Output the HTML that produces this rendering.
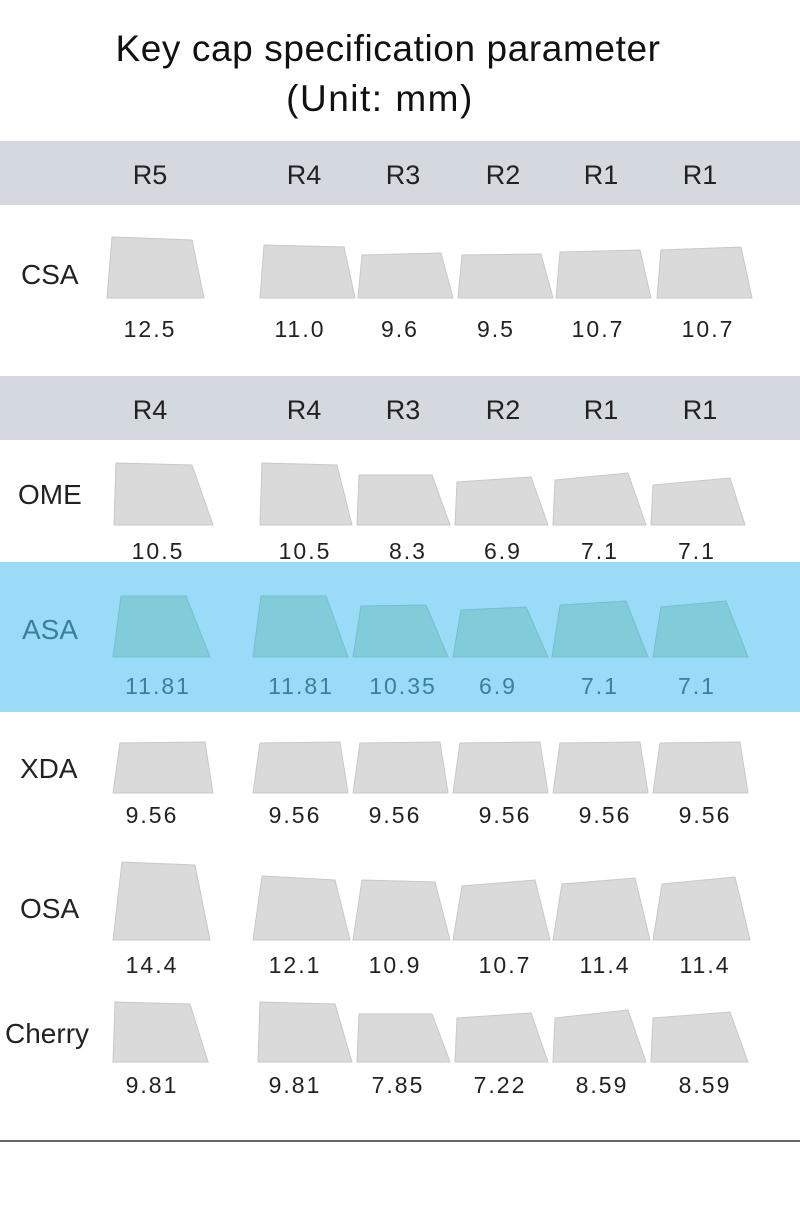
<!DOCTYPE html>
<html><head><meta charset="utf-8"><style>
html,body{margin:0;padding:0;background:#fff;width:800px;height:1228px;overflow:hidden}
svg{display:block}
text{font-family:"Liberation Sans",sans-serif}
</style></head><body>
<svg width="800" height="1228" viewBox="0 0 800 1228" xmlns="http://www.w3.org/2000/svg">
<rect width="800" height="1228" fill="#fff"/>
<text x="388" y="61" font-size="37" letter-spacing="0.6" text-anchor="middle" fill="#111">Key cap specification parameter</text>
<text x="380" y="111" font-size="37" letter-spacing="1.5" text-anchor="middle" fill="#111">(Unit: mm)</text>

<rect x="0" y="141" width="800" height="64" fill="#d4d9e0"/>
<rect x="0" y="376" width="800" height="64" fill="#d4d9e0"/>
<rect x="0" y="562" width="800" height="150" fill="#9adcf7"/>
<rect x="0" y="1140" width="800" height="2" fill="#666"/>

<g font-size="27" fill="#222" text-anchor="middle">
<text x="150" y="184">R5</text><text x="304" y="184">R4</text><text x="403" y="184">R3</text><text x="503" y="184">R2</text><text x="601" y="184">R1</text><text x="700" y="184">R1</text>
<text x="150" y="419">R4</text><text x="304" y="419">R4</text><text x="403" y="419">R3</text><text x="503" y="419">R2</text><text x="601" y="419">R1</text><text x="700" y="419">R1</text>
</g>

<g font-size="28" fill="#222">
<text x="21" y="284">CSA</text>
<text x="18" y="504">OME</text>
<text x="22" y="639" fill="#3a8096">ASA</text>
<text x="20" y="778">XDA</text>
<text x="20" y="918">OSA</text>
<text x="5" y="1043">Cherry</text>
</g>

<g fill="#dadada" stroke="#c8c8c8" stroke-width="1">
<polygon points="112,237 192,240 204,298 107,298"/>
<polygon points="264,245 344,247 355,298 260,298"/>
<polygon points="362,255 441,253 453,298 358,298"/>
<polygon points="462,255 541,254 553,298 458,298"/>
<polygon points="560,252 640,250 651,298 556,298"/>
<polygon points="661,250 741,247 752,298 657,298"/>
<polygon points="116,463 192,465 213,525 114,525"/>
<polygon points="262,463 337,465 352,525 260,525"/>
<polygon points="359,475 432,475 450,525 357,525"/>
<polygon points="457,482 531,477 548,525 455,525"/>
<polygon points="555,480 628,473 646,525 553,525"/>
<polygon points="653,485 730,478 745,525 651,525"/>
<polygon points="120,743 205,742 213,793 113,793"/>
<polygon points="260,743 340,742 348,793 253,793"/>
<polygon points="360,743 440,742 448,793 353,793"/>
<polygon points="460,743 540,742 548,793 453,793"/>
<polygon points="560,743 640,742 648,793 553,793"/>
<polygon points="660,743 740,742 748,793 653,793"/>
<polygon points="122,862 195,865 210,940 113,940"/>
<polygon points="262,876 335,880 350,940 253,940"/>
<polygon points="362,880 435,882 450,940 353,940"/>
<polygon points="462,886 535,880 550,940 453,940"/>
<polygon points="562,884 635,878 650,940 553,940"/>
<polygon points="662,884 735,877 750,940 653,940"/>
<polygon points="115,1002 190,1004 208,1062 113,1062"/>
<polygon points="260,1002 335,1004 352,1062 258,1062"/>
<polygon points="359,1014 432,1014 450,1062 357,1062"/>
<polygon points="457,1018 531,1013 548,1062 455,1062"/>
<polygon points="555,1018 628,1010 646,1062 553,1062"/>
<polygon points="653,1018 730,1012 748,1062 651,1062"/>
</g>
<g fill="#82ccd9" stroke="#74bfcd" stroke-width="1">
<polygon points="121,596 186,596 210,657 113,657"/>
<polygon points="261,596 326,596 348,657 253,657"/>
<polygon points="361,606 426,605 448,657 353,657"/>
<polygon points="461,610 526,607 548,657 453,657"/>
<polygon points="560,605 626,601 648,657 552,657"/>
<polygon points="661,607 726,601 748,657 653,657"/>
</g>

<g font-size="23" fill="#222" text-anchor="middle" letter-spacing="2">
<text x="150" y="337">12.5</text><text x="300" y="337">11.0</text><text x="400" y="337">9.6</text><text x="496" y="337">9.5</text><text x="598" y="337">10.7</text><text x="708" y="337">10.7</text>
<text x="158" y="559">10.5</text><text x="305" y="559">10.5</text><text x="408" y="559">8.3</text><text x="503" y="559">6.9</text><text x="600" y="559">7.1</text><text x="697" y="559">7.1</text>
<g fill="#3a8096"><text x="158" y="694">11.81</text><text x="301" y="694">11.81</text><text x="403" y="694">10.35</text><text x="498" y="694">6.9</text><text x="600" y="694">7.1</text><text x="697" y="694">7.1</text></g>
<text x="152" y="823">9.56</text><text x="295" y="823">9.56</text><text x="395" y="823">9.56</text><text x="505" y="823">9.56</text><text x="605" y="823">9.56</text><text x="705" y="823">9.56</text>
<text x="152" y="973">14.4</text><text x="295" y="973">12.1</text><text x="395" y="973">10.9</text><text x="505" y="973">10.7</text><text x="605" y="973">11.4</text><text x="705" y="973">11.4</text>
<text x="152" y="1093">9.81</text><text x="295" y="1093">9.81</text><text x="398" y="1093">7.85</text><text x="500" y="1093">7.22</text><text x="602" y="1093">8.59</text><text x="705" y="1093">8.59</text>
</g>
</svg>
</body></html>
